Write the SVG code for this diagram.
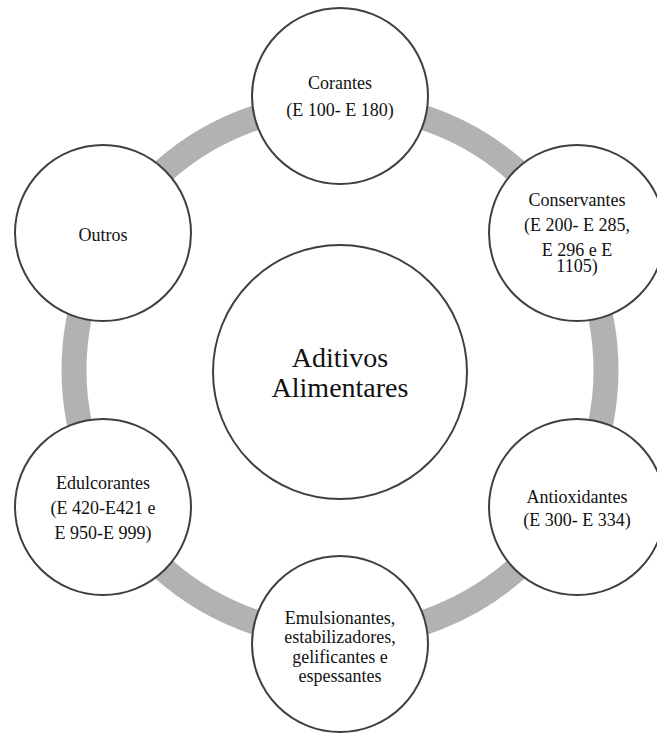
<svg xmlns="http://www.w3.org/2000/svg" width="657" height="733" viewBox="0 0 657 733">
<style>
.node{fill:#ffffff;stroke:#404040;stroke-width:2}
text{font-family:'Liberation Serif','Times New Roman','DejaVu Serif',serif;font-size:18px;fill:#111;text-anchor:middle}
.big{font-size:28px}
.ring{fill:none;stroke:#b2b2b2;stroke-width:25}
</style>
<rect width="657" height="733" fill="#ffffff"/>
<g id="connectors">
<circle class="ring" cx="340" cy="370" r="266"/>
</g>
<g id="center">
<circle class="node" cx="340" cy="372" r="127"/>
<text class="big" x="340" y="367">Aditivos</text>
<text class="big" x="340" y="397">Alimentares</text>
</g>
<g id="corantes">
<circle class="node" cx="340" cy="96" r="88"/>
<text x="340" y="89">Corantes</text>
<text x="340" y="116">(E 100- E 180)</text>
</g>
<g id="conservantes">
<circle class="node" cx="577" cy="233" r="88"/>
<text x="577" y="206">Conservantes</text>
<text x="577" y="231">(E 200- E 285,</text>
<text x="577" y="256">E 296 e E</text>
<text x="577" y="272">1105)</text>
</g>
<g id="antioxidantes">
<circle class="node" cx="577" cy="507" r="88"/>
<text x="577" y="503">Antioxidantes</text>
<text x="577" y="526">(E 300- E 334)</text>
</g>
<g id="emulsionantes">
<circle class="node" cx="340" cy="644" r="88"/>
<text x="340" y="624">Emulsionantes,</text>
<text x="340" y="643">estabilizadores,</text>
<text x="340" y="663">gelificantes e</text>
<text x="340" y="682">espessantes</text>
</g>
<g id="edulcorantes">
<circle class="node" cx="103" cy="507" r="88"/>
<text x="103" y="489">Edulcorantes</text>
<text x="103" y="514">(E 420-E421 e</text>
<text x="103" y="539">E 950-E 999)</text>
</g>
<g id="outros">
<circle class="node" cx="103" cy="233" r="88"/>
<text x="103" y="241">Outros</text>
</g>
</svg>
